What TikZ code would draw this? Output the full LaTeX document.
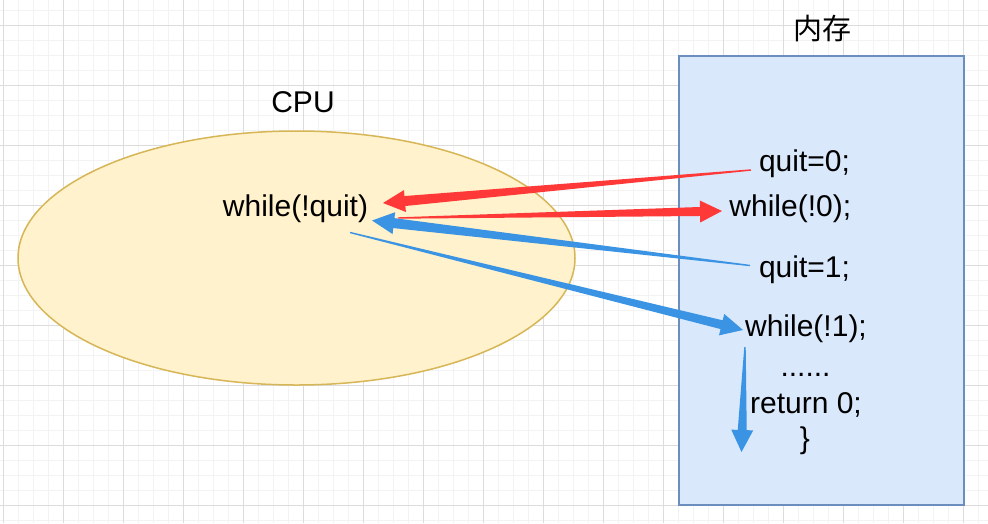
\documentclass[tikz,border=0pt]{standalone}
\usepackage{fontspec}
\setmainfont{Liberation Sans}
\newfontfamily\cjkfont{Noto Sans CJK SC}
\usetikzlibrary{calc}
\definecolor{ellfill}{HTML}{FFF2CC}
\definecolor{elldraw}{HTML}{D6B656}
\definecolor{memfill}{HTML}{DAE8FC}
\definecolor{memdraw}{HTML}{6C8EBF}
\definecolor{arrred}{HTML}{FF3838}
\definecolor{arrblue}{HTML}{3A94E3}
\definecolor{gridmajor}{HTML}{DCDCDC}
\definecolor{gridminor}{HTML}{F3F3F3}
\newcommand{\taperarrow}[4]{%
  \fill[#1] let \p1=(#2), \p2=(#3),
    \n1={atan2(\y2-\y1,\x2-\x1)},
    \n2={veclen(\x2-\x1,\y2-\y1)-22pt}
  in [shift={(\p1)}, rotate=\n1]
    (0pt,0.7pt) -- (\n2,#4) -- (\n2,11pt) -- (\n2+22pt,0pt) -- (\n2,-11pt) -- (\n2,-#4) -- (0pt,-0.7pt) -- cycle;}
\tikzset{
  txt/.style={font=\fontsize{30}{36}\selectfont, inner sep=0pt, anchor=base},
  minorline/.style={draw=gridminor, line width=1pt},
  majorline/.style={draw=gridmajor, line width=1pt},
  cpubox/.style={draw=elldraw, fill=ellfill, line width=1.5pt},
  membox/.style={draw=memdraw, fill=memfill, line width=1.5pt},
}
\begin{document}
\begin{tikzpicture}[x=1pt,y=-1pt]
\fill[white] (0,0) rectangle (988,523);
\useasboundingbox (0,0) rectangle (988,523);
% grid
\foreach \gx in {3,18,...,988} \draw[minorline] (\gx,0) -- (\gx,523);
\foreach \gy in {10,25,...,523} \draw[minorline] (0,\gy) -- (988,\gy);
\foreach \gx in {3,63,...,988} \draw[majorline] (\gx,0) -- (\gx,523);
\foreach \gy in {25,85,...,523} \draw[majorline] (0,\gy) -- (988,\gy);
% shapes
\draw[cpubox] (296.5,258) ellipse [x radius=278.5pt, y radius=127pt];
\draw[membox] (679,56) rectangle (964,505);
% texts
\node[txt] (cpu) at (303,112.7) {CPU};
\node[font=\cjkfont\fontsize{29}{35}\selectfont, inner sep=0pt] (mem) at (822,29) {内存};
\node[txt] (wq) at (295.5,216.7) {while(!quit)};
\node[txt] (q0) at (804.5,171.7) {quit=0;};
\node[txt] (w0) at (790.3,216.7) {while(!0);};
\node[txt] (q1) at (804.5,277) {quit=1;};
\node[txt] (w1) at (806,336) {while(!1);};
\node[txt] (dots) at (805.5,376) {......};
\node[txt] (ret) at (806,413) {return 0;};
\node[txt] (brace) at (805,448) {\}};
% arrow end points
\coordinate (r1t) at (751,170);
\coordinate (r1h) at (383,203);
\coordinate (r2t) at (398,218);
\coordinate (r2h) at (722,211);
\coordinate (b1t) at (750,265.5);
\coordinate (b1h) at (372,220.5);
\coordinate (b2t) at (350,232.5);
\coordinate (b2h) at (743,330);
\coordinate (b3t) at (745,347);
\coordinate (b3h) at (741.5,452);
\taperarrow{arrred}{r1t}{r1h}{5pt}
\taperarrow{arrred}{r2t}{r2h}{4.5pt}
\taperarrow{arrblue}{b1t}{b1h}{5pt}
\taperarrow{arrblue}{b2t}{b2h}{4.5pt}
\taperarrow{arrblue}{b3t}{b3h}{4.5pt}
\end{tikzpicture}
\end{document}
